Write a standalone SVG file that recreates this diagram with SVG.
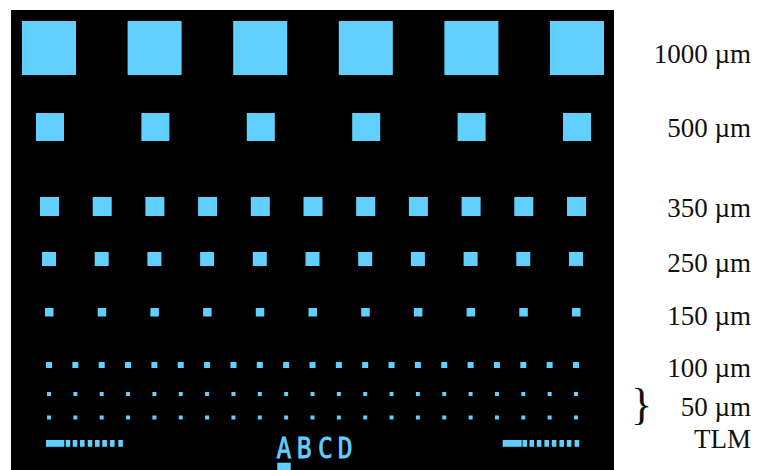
<svg xmlns="http://www.w3.org/2000/svg" xmlns:xlink="http://www.w3.org/1999/xlink" width="761" height="470" viewBox="0 0 761 470">
<style>
.pad{fill:#62D0FF}
.lbl{font-family:"Liberation Serif","Times New Roman",serif;font-size:27px;fill:#111;text-anchor:end}
.abcd{font-family:"DejaVu Sans Mono","Liberation Mono",monospace;font-size:29px;fill:#62D0FF;stroke:#62D0FF;stroke-width:0.8}
</style>
<defs>
<rect id="p1000" class="pad" width="54" height="54"/>
<rect id="p500" class="pad" width="28" height="28"/>
<rect id="p350" class="pad" width="19" height="19"/>
<rect id="p250" class="pad" width="14" height="14"/>
<rect id="p150" class="pad" width="8.5" height="8.5"/>
<rect id="p100" class="pad" width="6" height="6"/>
<rect id="p50" class="pad" width="4" height="4"/>
<rect id="tp" class="pad" width="4.6" height="6.8"/>
</defs>
<rect width="761" height="470" fill="#fff"/>
<rect id="chip" x="11" y="10" width="603" height="460" fill="#000"/>

<g id="row1000" transform="translate(0,21)">
<use href="#p1000" x="22"/><use href="#p1000" x="127.6"/><use href="#p1000" x="233.2"/><use href="#p1000" x="338.8"/><use href="#p1000" x="444.4"/><use href="#p1000" x="550"/>
</g>
<g id="row500" transform="translate(0,113)">
<use href="#p500" x="36"/><use href="#p500" x="141.4"/><use href="#p500" x="246.8"/><use href="#p500" x="352.2"/><use href="#p500" x="457.6"/><use href="#p500" x="563"/>
</g>
<g id="row350" transform="translate(40,197)">
<use href="#p350" x="0"/><use href="#p350" x="52.7"/><use href="#p350" x="105.4"/><use href="#p350" x="158.1"/><use href="#p350" x="210.8"/><use href="#p350" x="263.5"/><use href="#p350" x="316.2"/><use href="#p350" x="368.9"/><use href="#p350" x="421.6"/><use href="#p350" x="474.3"/><use href="#p350" x="527"/>
</g>
<g id="row250" transform="translate(42,252)">
<use href="#p250" x="0"/><use href="#p250" x="52.7"/><use href="#p250" x="105.4"/><use href="#p250" x="158.1"/><use href="#p250" x="210.8"/><use href="#p250" x="263.5"/><use href="#p250" x="316.2"/><use href="#p250" x="368.9"/><use href="#p250" x="421.6"/><use href="#p250" x="474.3"/><use href="#p250" x="527"/>
</g>
<g id="row150" transform="translate(45,308)">
<use href="#p150" x="0"/><use href="#p150" x="52.7"/><use href="#p150" x="105.4"/><use href="#p150" x="158.1"/><use href="#p150" x="210.8"/><use href="#p150" x="263.5"/><use href="#p150" x="316.2"/><use href="#p150" x="368.9"/><use href="#p150" x="421.6"/><use href="#p150" x="474.3"/><use href="#p150" x="527"/>
</g>
<g id="row100" transform="translate(46,362)">
<use href="#p100" x="0"/><use href="#p100" x="26.35"/><use href="#p100" x="52.7"/><use href="#p100" x="79.05"/><use href="#p100" x="105.4"/><use href="#p100" x="131.75"/><use href="#p100" x="158.1"/><use href="#p100" x="184.45"/><use href="#p100" x="210.8"/><use href="#p100" x="237.15"/><use href="#p100" x="263.5"/><use href="#p100" x="289.85"/><use href="#p100" x="316.2"/><use href="#p100" x="342.55"/><use href="#p100" x="368.9"/><use href="#p100" x="395.25"/><use href="#p100" x="421.6"/><use href="#p100" x="447.95"/><use href="#p100" x="474.3"/><use href="#p100" x="500.65"/><use href="#p100" x="527"/>
</g>
<g id="row50a" transform="translate(47,392)">
<use href="#p50" x="0"/><use href="#p50" x="26.35"/><use href="#p50" x="52.7"/><use href="#p50" x="79.05"/><use href="#p50" x="105.4"/><use href="#p50" x="131.75"/><use href="#p50" x="158.1"/><use href="#p50" x="184.45"/><use href="#p50" x="210.8"/><use href="#p50" x="237.15"/><use href="#p50" x="263.5"/><use href="#p50" x="289.85"/><use href="#p50" x="316.2"/><use href="#p50" x="342.55"/><use href="#p50" x="368.9"/><use href="#p50" x="395.25"/><use href="#p50" x="421.6"/><use href="#p50" x="447.95"/><use href="#p50" x="474.3"/><use href="#p50" x="500.65"/><use href="#p50" x="527"/>
</g>
<g id="row50b" transform="translate(47,415.5)">
<use href="#p50" x="0"/><use href="#p50" x="26.35"/><use href="#p50" x="52.7"/><use href="#p50" x="79.05"/><use href="#p50" x="105.4"/><use href="#p50" x="131.75"/><use href="#p50" x="158.1"/><use href="#p50" x="184.45"/><use href="#p50" x="210.8"/><use href="#p50" x="237.15"/><use href="#p50" x="263.5"/><use href="#p50" x="289.85"/><use href="#p50" x="316.2"/><use href="#p50" x="342.55"/><use href="#p50" x="368.9"/><use href="#p50" x="395.25"/><use href="#p50" x="421.6"/><use href="#p50" x="447.95"/><use href="#p50" x="474.3"/><use href="#p50" x="500.65"/><use href="#p50" x="527"/>
</g>
<g id="tlm-left" transform="translate(0,440)">
<rect class="pad" x="46" y="0" width="18.3" height="6.8"/>
<use href="#tp" x="65.7"/><use href="#tp" x="72.7"/><use href="#tp" x="80"/><use href="#tp" x="87.7"/><use href="#tp" x="95"/><use href="#tp" x="102.3"/><use href="#tp" x="110"/><use href="#tp" x="118.3"/>
</g>
<g id="tlm-right" transform="translate(0,440)">
<rect class="pad" x="502.7" y="0" width="19" height="6.8"/>
<use href="#tp" x="522.5"/><use href="#tp" x="529.5"/><use href="#tp" x="536.8"/><use href="#tp" x="544.4"/><use href="#tp" x="551.8"/><use href="#tp" x="559.4"/><use href="#tp" x="566.8"/><use href="#tp" x="574.6"/>
</g>
<g id="marker-abcd">
<text class="abcd" transform="scale(0.85,1)" y="458.3"><tspan x="325.3">A</tspan><tspan x="349.2">B</tspan><tspan x="374.1">C</tspan><tspan x="397.4">D</tspan></text>
<rect class="pad" x="277.3" y="462.7" width="13.4" height="8"/>
</g>

<g id="labels">
<text class="lbl" x="751" y="63">1000 µm</text>
<text class="lbl" x="751" y="137">500 µm</text>
<text class="lbl" x="751" y="217">350 µm</text>
<text class="lbl" x="751" y="272">250 µm</text>
<text class="lbl" x="751" y="325">150 µm</text>
<text class="lbl" x="751" y="377">100 µm</text>
<text class="lbl" x="751" y="416">50 µm</text>
<text class="lbl" x="751" y="448">TLM</text>
<text x="631" y="419" font-family="Liberation Serif, Times New Roman, serif" font-size="44" fill="#111">}</text>
</g>
</svg>
